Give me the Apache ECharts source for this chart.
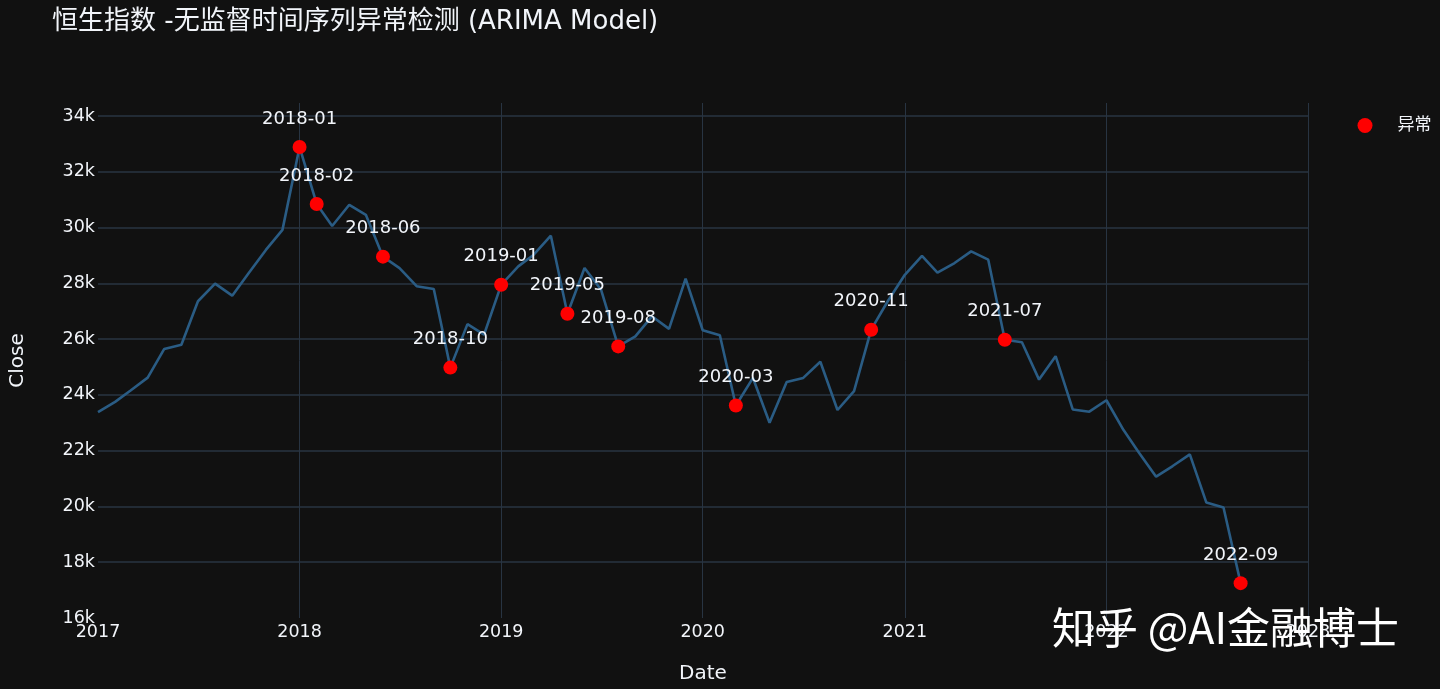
<!DOCTYPE html>
<html>
<head>
<meta charset="utf-8">
<script src="https://cdn.jsdelivr.net/npm/echarts@6/dist/echarts.min.js"></script>
<style>
html,body{margin:0;padding:0;background:#111111;}
#chart{width:1440px;height:689px;}
</style>
</head>
<body>
<div id="chart"></div>
<script>
const months = [
'2017-01-01','2017-02-01','2017-03-01','2017-04-01','2017-05-01','2017-06-01','2017-07-01','2017-08-01','2017-09-01','2017-10-01','2017-11-01','2017-12-01',
'2018-01-01','2018-02-01','2018-03-01','2018-04-01','2018-05-01','2018-06-01','2018-07-01','2018-08-01','2018-09-01','2018-10-01','2018-11-01','2018-12-01',
'2019-01-01','2019-02-01','2019-03-01','2019-04-01','2019-05-01','2019-06-01','2019-07-01','2019-08-01','2019-09-01','2019-10-01','2019-11-01','2019-12-01',
'2020-01-01','2020-02-01','2020-03-01','2020-04-01','2020-05-01','2020-06-01','2020-07-01','2020-08-01','2020-09-01','2020-10-01','2020-11-01','2020-12-01',
'2021-01-01','2021-02-01','2021-03-01','2021-04-01','2021-05-01','2021-06-01','2021-07-01','2021-08-01','2021-09-01','2021-10-01','2021-11-01','2021-12-01',
'2022-01-01','2022-02-01','2022-03-01','2022-04-01','2022-05-01','2022-06-01','2022-07-01','2022-08-01','2022-09-01'
];
const closeValues = [
23380, 23750, 24160, 24620, 25650, 25800, 27360, 27990, 27560, 28370, 29200, 29920,
32890, 30850, 30060, 30820, 30460, 28960, 28550, 27900, 27800, 24980, 26540, 26160,
27950, 28610, 29030, 29710, 26910, 28550, 27770, 25740, 26100, 26820, 26370, 28170,
26320, 26140, 23620, 24610, 23000, 24460, 24610, 25190, 23460, 24140, 26340, 27360,
28310, 28990, 28390, 28730, 29150, 28850, 25980, 25890, 24550, 25390, 23480, 23400,
23810, 22740, 21930, 21070, 21450, 21870, 20140, 19960, 17250
];
const anomalyLabels = ['2018-01','2018-02','2018-06','2018-10','2019-01','2019-05','2019-08','2020-03','2020-11','2021-07','2022-09'];
const anomalyDates = ['2018-01-01','2018-02-01','2018-06-01','2018-10-01','2019-01-01','2019-05-01','2019-08-01','2020-03-01','2020-11-01','2021-07-01','2022-09-01'];
const anomalyValues = [32890, 30850, 28960, 24980, 27950, 26910, 25740, 23620, 26340, 25980, 17250];
const yTicks = [16000, 18000, 20000, 22000, 24000, 26000, 28000, 30000, 32000, 34000];
const xTickYears = ['2017', '2018', '2019', '2020', '2021', '2022', '2023'];

const FONT = '"DejaVu Sans", "Noto Sans CJK SC", sans-serif';
const TXT = '#f2f5fa';
const GRID = '#283442';

const chart = echarts.init(document.getElementById('chart'), null, {renderer: 'canvas'});
const option = {
  backgroundColor: '#111111',
  animation: false,
  textStyle: {fontFamily: FONT},
  title: {
    text: '恒生指数 -无监督时间序列异常检测 (ARIMA Model)',
    left: 52, top: 9, padding: 0,
    textStyle: {color: TXT, fontSize: 26, fontWeight: 'normal', fontFamily: FONT}
  },
  legend: {
    data: [{name: '异常', icon: 'circle'}],
    left: 1357.5, top: 117,
    itemWidth: 15, itemHeight: 15, itemGap: 10, padding: 0,
    textStyle: {color: TXT, fontSize: 17, fontFamily: FONT, padding: [0, 0, 0, 20]}
  },
  grid: {left: 97, right: 132, top: 103, bottom: 70, containLabel: false},
  xAxis: {
    type: 'time',
    min: '2017-01-01', max: '2023-01-01',
    minInterval: 365 * 86400000, maxInterval: 366 * 86400000,
    name: 'Date', nameLocation: 'middle', nameGap: 46,
    nameTextStyle: {color: TXT, fontSize: 20, fontFamily: FONT},
    axisLine: {show: false}, axisTick: {show: false},
    axisLabel: {color: TXT, fontSize: 17.5, fontFamily: FONT, margin: 6, formatter: '{yyyy}', showMinLabel: true, showMaxLabel: true},
    splitLine: {show: true, showMinLine: false, showMaxLine: true,
      lineStyle: {color: ['rgba(0,0,0,0)', GRID, GRID, GRID, GRID, GRID, GRID], width: 1}}
  },
  yAxis: {
    type: 'value',
    min: 16000, max: 34470, interval: 2000,
    name: 'Close', nameLocation: 'middle', nameGap: 70, nameRotate: 90,
    nameTextStyle: {color: TXT, fontSize: 20, fontFamily: FONT},
    axisLine: {show: false}, axisTick: {show: false},
    axisLabel: {color: TXT, fontSize: 17.5, fontFamily: FONT, margin: 3,
      formatter: v => yTicks.indexOf(v) >= 0 ? (v / 1000) + 'k' : ''},
    splitLine: {show: true, showMinLine: false, showMaxLine: false, lineStyle: {color: GRID, width: 1.5}}
  },
  series: [
    {
      name: 'Close', type: 'line',
      data: months.map((m, i) => [m, closeValues[i]]),
      showSymbol: false, symbol: 'none',
      lineStyle: {color: '#2a5c84', width: 2.6},
      itemStyle: {color: '#2a5c84'},
      z: 2
    },
    {
      name: '异常', type: 'scatter',
      data: anomalyDates.map((d, i) => ({name: anomalyLabels[i], value: [d, anomalyValues[i]]})),
      symbolSize: 14,
      itemStyle: {color: '#ff0000', opacity: 1},
      label: {show: true, position: 'top', distance: 12, formatter: '{b}', color: TXT, fontSize: 18, fontFamily: FONT},
      z: 3
    }
  ],
  graphic: [{
    type: 'text', left: 1052, top: 606, z: 100,
    style: {text: '知乎 @AI金融博士', fill: '#ffffff', font: '43px "Noto Sans CJK SC", sans-serif'}
  }]
};
chart.setOption(option);
</script>
</body>
</html>
